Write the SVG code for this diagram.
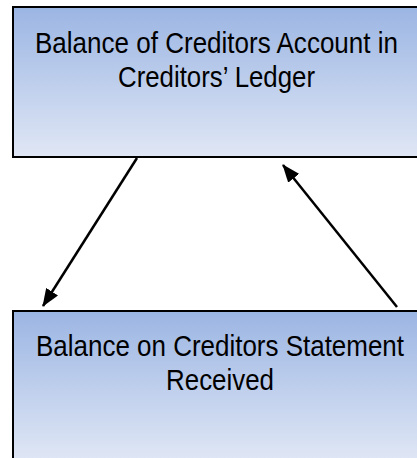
<svg xmlns="http://www.w3.org/2000/svg" width="417" height="458" viewBox="0 0 417 458">
  <defs>
    <linearGradient id="fill" x1="0" y1="0" x2="0" y2="1">
      <stop offset="0" stop-color="#9bb5e3"/>
      <stop offset="1" stop-color="#e0e7f5"/>
    </linearGradient>
    <marker id="arrow" viewBox="0 0 18 14" refX="17" refY="7" markerWidth="18" markerHeight="14" markerUnits="userSpaceOnUse" orient="auto">
      <path d="M0,0 L18,7 L0,14 Z" fill="#000"/>
    </marker>
    <style>
      .box { fill: url(#fill); stroke: #000; stroke-width: 2; }
      .label { font-family: "Liberation Sans", Arial, sans-serif; font-size: 26px; fill: #000; text-anchor: middle; }
      .conn { stroke: #000; stroke-width: 2.5; fill: none; marker-end: url(#arrow); }
    </style>
  </defs>
  <rect width="417" height="458" fill="#fff"/>
  <g id="node-ledger">
    <rect class="box" x="13" y="7" width="420" height="150"/>
    <text class="label" transform="translate(216.5,53) scale(1,1.1)" x="0" y="0" textLength="363" lengthAdjust="spacingAndGlyphs">Balance of Creditors Account in</text>
    <text class="label" transform="translate(216.5,87) scale(1,1.1)" x="0" y="0" textLength="197" lengthAdjust="spacingAndGlyphs">Creditors’ Ledger</text>
  </g>
  <g id="node-statement">
    <rect class="box" x="13" y="311" width="420" height="150"/>
    <text class="label" transform="translate(220,356) scale(1,1.1)" x="0" y="0" textLength="368" lengthAdjust="spacingAndGlyphs">Balance on Creditors Statement</text>
    <text class="label" transform="translate(220,390) scale(1,1.1)" x="0" y="0" textLength="108" lengthAdjust="spacingAndGlyphs">Received</text>
  </g>
  <g id="connectors">
    <line class="conn" x1="137" y1="158" x2="43" y2="306"/>
    <line class="conn" x1="397" y1="307" x2="283" y2="165"/>
  </g>
</svg>
